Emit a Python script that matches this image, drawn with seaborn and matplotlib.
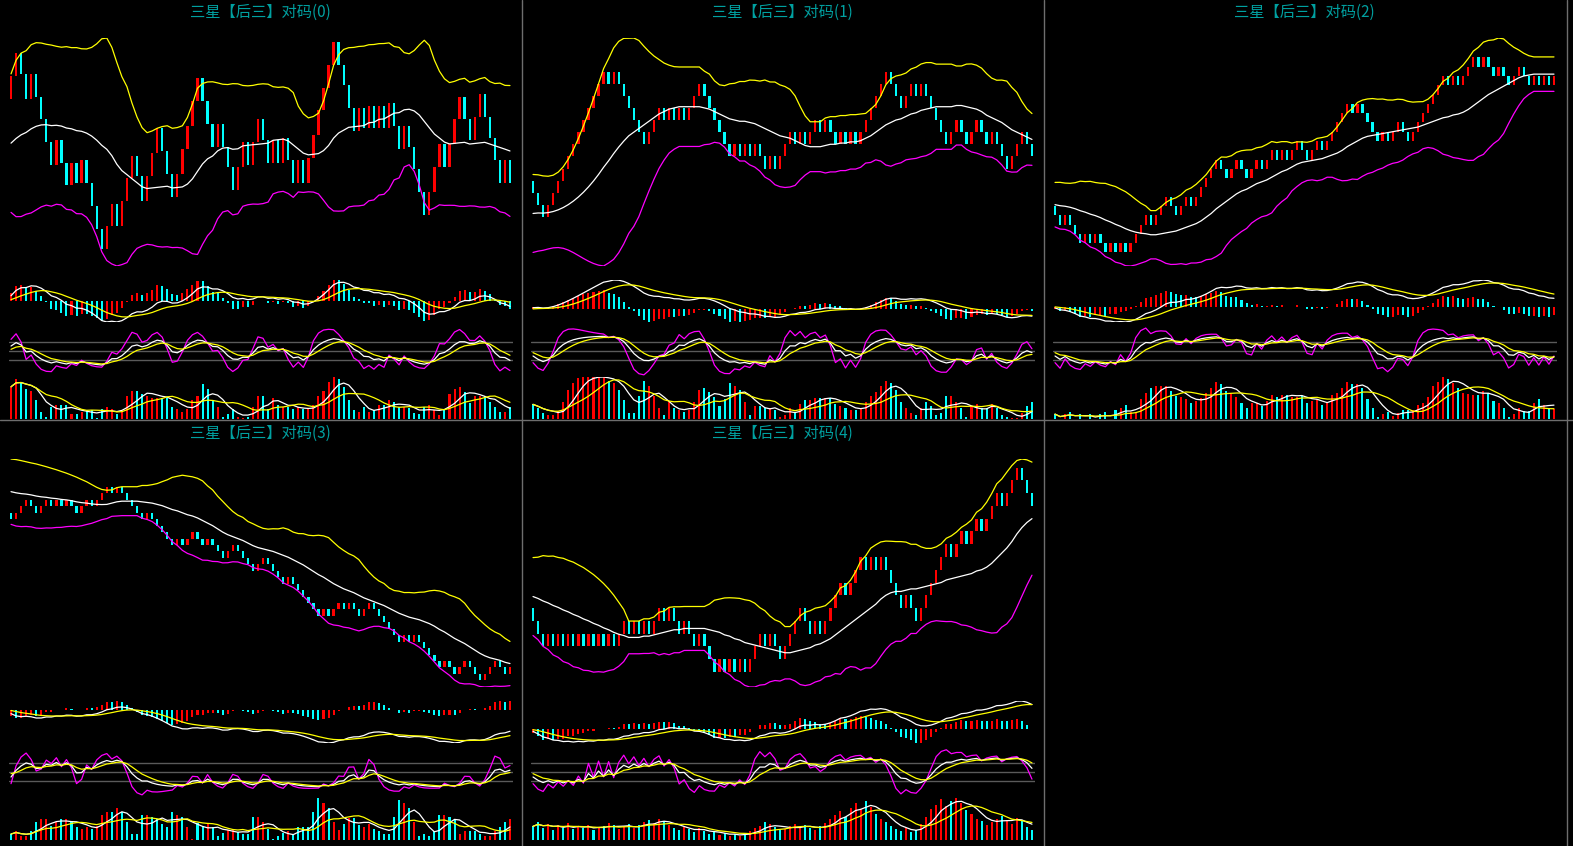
import numpy as np
import pandas as pd
import matplotlib
matplotlib.use('Agg')
import matplotlib.pyplot as plt
from matplotlib.lines import Line2D
import seaborn as sns

# ------------------------------------------------------------
# data
#   openN   : open of the first bar (every later open = previous close)
#   closeN  : close of every bar
#   volN    : volume bars
#   bollN   : (mid, std) of the 20-bar window just before the first bar
# ------------------------------------------------------------
open0 = 89
close0 = [99, 109, 100, 89, 100, 90, 80, 70, 60, 71,
          61, 51, 61, 52, 62, 52, 42, 32, 23, 33,
          43, 33, 44, 54, 64, 55, 44, 55, 65, 76,
          66, 56, 46, 56, 67, 77, 88, 98, 88, 78,
          68, 78, 68, 59, 49, 59, 70, 60, 70, 80,
          71, 61, 71, 61, 72, 62, 52, 62, 52, 63,
          73, 84, 94, 104, 114, 104, 95, 85, 75, 85,
          76, 86, 76, 86, 76, 87, 77, 67, 77, 68,
          58, 48, 38, 48, 59, 69, 59, 69, 80, 90,
          80, 71, 81, 91, 81, 72, 62, 52, 62, 52]
vol0 = [33, 41, 38, 31, 29, 19, 7, 2, 12, 14,
        14, 14, 5, 5, 7, 9, 9, 1, 10, 12,
        10, 5, 7, 24, 29, 29, 26, 24, 22, 22,
        22, 22, 12, 10, 7, 10, 19, 24, 36, 31,
        19, 12, 2, 5, 10, 2, 1, 2, 12, 24,
        24, 10, 22, 14, 12, 12, 10, 12, 10, 10,
        14, 24, 29, 38, 43, 41, 33, 19, 9, 7,
        12, 7, 9, 14, 14, 19, 17, 12, 12, 11,
        6, 5, 12, 14, 9, 4, 10, 26, 31, 33,
        28, 16, 24, 24, 24, 17, 12, 7, 7, 12]
boll0 = (68, 14)

open1 = 100
close1 = [90, 80, 70, 80, 90, 100, 110, 120, 130, 140,
          150, 160, 170, 180, 190, 180, 190, 180, 170, 160,
          150, 140, 130, 140, 150, 160, 150, 160, 150, 160,
          150, 160, 170, 180, 170, 160, 150, 140, 130, 120,
          130, 120, 130, 120, 130, 120, 110, 120, 110, 120,
          130, 140, 130, 140, 130, 140, 150, 140, 150, 140,
          130, 140, 130, 140, 130, 140, 150, 160, 170, 180,
          190, 180, 170, 160, 170, 180, 170, 180, 170, 160,
          150, 140, 130, 140, 150, 140, 130, 140, 150, 140,
          130, 140, 130, 120, 110, 120, 130, 140, 130, 120]
vol1 = [15, 11, 6, 4, 4, 8, 17, 30, 37, 42,
        43, 43, 43, 43, 43, 39, 37, 30, 19, 6,
        6, 24, 39, 34, 24, 11, 4, 17, 11, 9,
        7, 9, 17, 30, 32, 28, 23, 13, 20, 37,
        34, 30, 17, 4, 13, 13, 11, 11, 9, 2,
        4, 11, 7, 15, 19, 19, 22, 22, 22, 22,
        15, 13, 11, 9, 9, 11, 17, 24, 28, 34,
        39, 37, 30, 17, 11, 6, 4, 11, 17, 13,
        4, 6, 24, 24, 17, 11, 2, 13, 15, 11,
        11, 15, 11, 4, 2, 1, 1, 6, 13, 17]
boll1 = (72, 16)

open2 = 100
close2 = [90, 80, 90, 80, 70, 60, 70, 60, 70, 60,
          50, 60, 50, 60, 50, 60, 70, 80, 90, 80,
          90, 100, 110, 100, 90, 100, 110, 100, 110, 120,
          130, 140, 150, 140, 130, 140, 150, 140, 130, 140,
          150, 140, 150, 160, 150, 160, 150, 160, 170, 160,
          150, 160, 170, 160, 170, 180, 190, 200, 210, 200,
          210, 200, 190, 180, 170, 180, 170, 180, 190, 180,
          170, 180, 190, 200, 210, 220, 230, 240, 230, 240,
          230, 240, 250, 260, 250, 260, 250, 240, 250, 240,
          230, 240, 250, 240, 230, 240, 230, 240, 230, 240]
vol2 = [5, 0, 5, 7, 0, 5, 0, 5, 0, 5,
        7, 0, 9, 11, 14, 7, 7, 20, 27, 32,
        34, 34, 34, 29, 24, 23, 20, 16, 18, 21,
        27, 32, 38, 36, 29, 26, 23, 16, 11, 16,
        16, 13, 18, 25, 23, 25, 25, 23, 23, 24,
        16, 18, 20, 14, 16, 25, 27, 32, 38, 36,
        36, 32, 20, 11, 2, 5, 7, 3, 6, 9,
        9, 9, 14, 16, 23, 34, 38, 43, 41, 37,
        32, 27, 26, 25, 25, 29, 27, 18, 16, 11,
        2, 5, 11, 8, 8, 16, 20, 14, 11, 10]
boll2 = (102, 12)

open3 = 200
close3 = [190, 200, 210, 220, 210, 200, 210, 220, 210, 220,
          210, 220, 210, 200, 210, 220, 210, 220, 230, 240,
          230, 240, 230, 220, 210, 200, 190, 200, 190, 180,
          170, 160, 150, 160, 150, 160, 170, 160, 150, 160,
          150, 140, 130, 140, 150, 140, 130, 120, 110, 120,
          130, 120, 110, 100, 90, 100, 90, 80, 70, 60,
          50, 40, 50, 40, 50, 60, 50, 60, 50, 40,
          50, 60, 50, 40, 30, 20, 10, 0, 10, 0,
          10, 0, -10, -20, -30, -40, -30, -40, -50, -40,
          -30, -40, -50, -60, -50, -40, -30, -40, -50, -40]
vol3 = [6, 9, 4, 4, 9, 18, 21, 21, 14, 18,
        21, 21, 18, 13, 11, 13, 11, 14, 25, 28,
        28, 32, 28, 18, 6, 6, 25, 25, 23, 21,
        16, 13, 28, 25, 23, 13, 1, 17, 14, 16,
        13, 4, 7, 10, 10, 8, 6, 6, 23, 23,
        18, 11, 1, 4, 7, 9, 6, 13, 13, 13,
        28, 42, 37, 32, 18, 10, 16, 22, 22, 15,
        13, 16, 11, 9, 6, 6, 23, 40, 37, 32,
        18, 4, 6, 4, 9, 25, 25, 23, 21, 6,
        9, 9, 9, 6, 4, 4, 9, 13, 18, 21]
boll3 = (235, 24)

open4 = 100
close4 = [90, 80, 70, 80, 70, 80, 70, 80, 70, 80,
          70, 80, 70, 80, 70, 80, 70, 80, 90, 80,
          90, 80, 90, 80, 90, 100, 90, 100, 90, 80,
          90, 80, 70, 80, 70, 60, 50, 60, 50, 60,
          50, 60, 50, 60, 70, 80, 70, 80, 70, 60,
          70, 80, 90, 100, 90, 80, 90, 80, 90, 100,
          110, 120, 110, 120, 130, 140, 130, 140, 130, 140,
          130, 120, 110, 100, 110, 100, 90, 100, 110, 120,
          130, 140, 150, 140, 150, 160, 150, 160, 170, 160,
          170, 180, 190, 180, 190, 200, 210, 200, 190, 180]
vol4 = [14, 18, 12, 16, 10, 15, 12, 17, 11, 14,
        12, 15, 10, 13, 14, 17, 15, 11, 14, 16,
        12, 15, 18, 20, 17, 22, 19, 15, 12, 10,
        13, 11, 8, 12, 9, 6, 8, 5, 7, 4,
        6, 4, 7, 9, 12, 14, 18, 16, 13, 10,
        11, 14, 16, 13, 15, 12, 10, 14, 17, 21,
        26, 30, 24, 33, 38, 32, 40, 34, 27, 22,
        18, 14, 11, 9, 12, 8, 10, 16, 24, 32,
        36, 42, 35, 40, 43, 38, 31, 27, 22, 19,
        15, 18, 21, 25, 20, 16, 23, 19, 13, 10]
boll4 = (110, 15)

titles = ['三星【后三】对码(0)', '三星【后三】对码(1)', '三星【后三】对码(2)',
          '三星【后三】对码(3)', '三星【后三】对码(4)']

panels = [(open0, close0, vol0, boll0),
          (open1, close1, vol1, boll1),
          (open2, close2, vol2, boll2),
          (open3, close3, vol3, boll3),
          (open4, close4, vol4, boll4)]

# ------------------------------------------------------------
sns.set_theme(style='dark', rc={'figure.facecolor': 'black', 'axes.facecolor': 'none'})
plt.rcParams['font.family'] = ['Noto Sans CJK SC', 'DejaVu Sans']

W, H = 1573, 846
fig = plt.figure(figsize=(W / 100, H / 100), dpi=100)
fig.patch.set_facecolor('black')

RED, CYAN, YEL, MAG, WHT = '#ff0000', '#00ffff', '#ffff00', '#ff00ff', '#ffffff'
TEAL = '#00a0a0'
GRID = '#5a5a5a'


def px_axes(x0, y_top, y_bot, left=8.5, right=512.5):
    ax = fig.add_axes([(x0 + left) / W, 1 - y_bot / H, (right - left) / W, (y_bot - y_top) / H])
    ax.set_facecolor('none')
    ax.set_axis_off()
    ax.set_xlim(-0.5, 99.5)
    return ax


def line(ax, x, y, color):
    sns.lineplot(x=x, y=y, ax=ax, color=color, linewidth=0.9, legend=False)


def boll(c, mid0, sd0, n=20):
    # rolling mean / std; the part of the window before the first bar
    # is described by the (mid0, sd0) read at the first bar
    mids, sds = [], []
    for i in range(len(c)):
        win = c[max(0, i - n + 1):i + 1]
        m = n - len(win)
        mean = (win.sum() + m * mid0) / n
        var = (((win - mean) ** 2).sum() + m * (sd0 ** 2 + (mid0 - mean) ** 2)) / n
        mids.append(mean)
        sds.append(np.sqrt(var))
    mid = pd.Series(mids)
    sd = pd.Series(sds)
    return mid + 2 * sd, mid, mid - 2 * sd


def seeded_ewm(s, seed, **kw):
    ext = pd.concat([pd.Series([seed]), s], ignore_index=True)
    return ext.ewm(adjust=False, **kw).mean().iloc[1:].reset_index(drop=True)


def draw_panel(p, open_first, close, vol, seed):
    col, row = p % 3, p // 3
    x0, y0 = col * 522, row * 421
    c = pd.Series(close, dtype=float)
    o = c.shift(1).fillna(open_first)
    hi = np.maximum(o, c)
    lo = np.minimum(o, c)
    v = pd.Series(vol, dtype=float)
    x = np.arange(len(c))
    colors = np.where((c >= o).values, RED, CYAN)

    upper, mid, lower = boll(c.values, *seed)
    # MACD
    dif = seeded_ewm(c, seed[0], span=12) - seeded_ewm(c, seed[0], span=26)
    dea = seeded_ewm(dif, 0.0, span=9)
    hist = 2 * (dif - dea)
    hcol = np.where(hist.diff().fillna(1) >= 0, RED, CYAN)
    # KDJ
    llv = lo.rolling(9, min_periods=1).min()
    hhv = hi.rolling(9, min_periods=1).max()
    rsv = ((c - llv) / (hhv - llv).replace(0, np.nan) * 100).fillna(50)
    k = seeded_ewm(rsv, 50.0, com=2)
    d = seeded_ewm(k, 50.0, com=2)
    j = 3 * k - 2 * d
    # volume averages
    ma5 = v.rolling(5, min_periods=1).mean()
    ma10 = v.rolling(10, min_periods=1).mean()

    fig.text((x0 + 260) / W, 1 - (y0 + 12) / H, titles[p], color=TEAL,
             fontsize=11, ha='center', va='center')

    # main chart
    ax = px_axes(x0, y0 + 38, y0 + 266)
    ax.bar(x, (c - o).values, bottom=o.values, color=colors, width=0.45, linewidth=0)
    line(ax, x, upper.values, YEL)
    line(ax, x, mid.values, WHT)
    line(ax, x, lower.values, MAG)
    ax.set_ylim(lower.min(), upper.max())

    # MACD
    ax = px_axes(x0, y0 + 280, y0 + 322)
    ax.bar(x, hist.values, color=hcol, width=0.4, linewidth=0)
    line(ax, x, dif.values, WHT)
    line(ax, x, dea.values, YEL)
    lo_m = min(dif.min(), dea.min(), hist.min(), 0)
    hi_m = max(dif.max(), dea.max(), hist.max(), 0)
    ax.set_ylim(lo_m, hi_m)

    # KDJ
    ax = px_axes(x0, y0 + 326, y0 + 376)
    for lv in (20, 50, 80):
        ax.axhline(lv, color=GRID, linewidth=1)
    line(ax, x, j.values, MAG)
    line(ax, x, k.values, WHT)
    line(ax, x, d.values, YEL)
    ax.set_ylim(-33.3, 133.3)

    # volume
    ax = px_axes(x0, y0 + 377, y0 + 419)
    ax.bar(x, v.values, color=colors, width=0.4, linewidth=0)
    line(ax, x, ma5.values, WHT)
    line(ax, x, ma10.values, YEL)
    ax.set_ylim(0, v.max())


for p, (of, cl, vo, sd) in enumerate(panels):
    draw_panel(p, of, cl, vo, sd)

# panel separators
for xs in (521.5, 1043.5, 1566.5):
    fig.add_artist(Line2D([xs / W, xs / W], [0, 1], color='#6e6e6e', linewidth=1))
fig.add_artist(Line2D([0, 1], [1 - 420.5 / H, 1 - 420.5 / H], color='#6e6e6e', linewidth=1))

fig.savefig('out.png', dpi=100, facecolor='black')
